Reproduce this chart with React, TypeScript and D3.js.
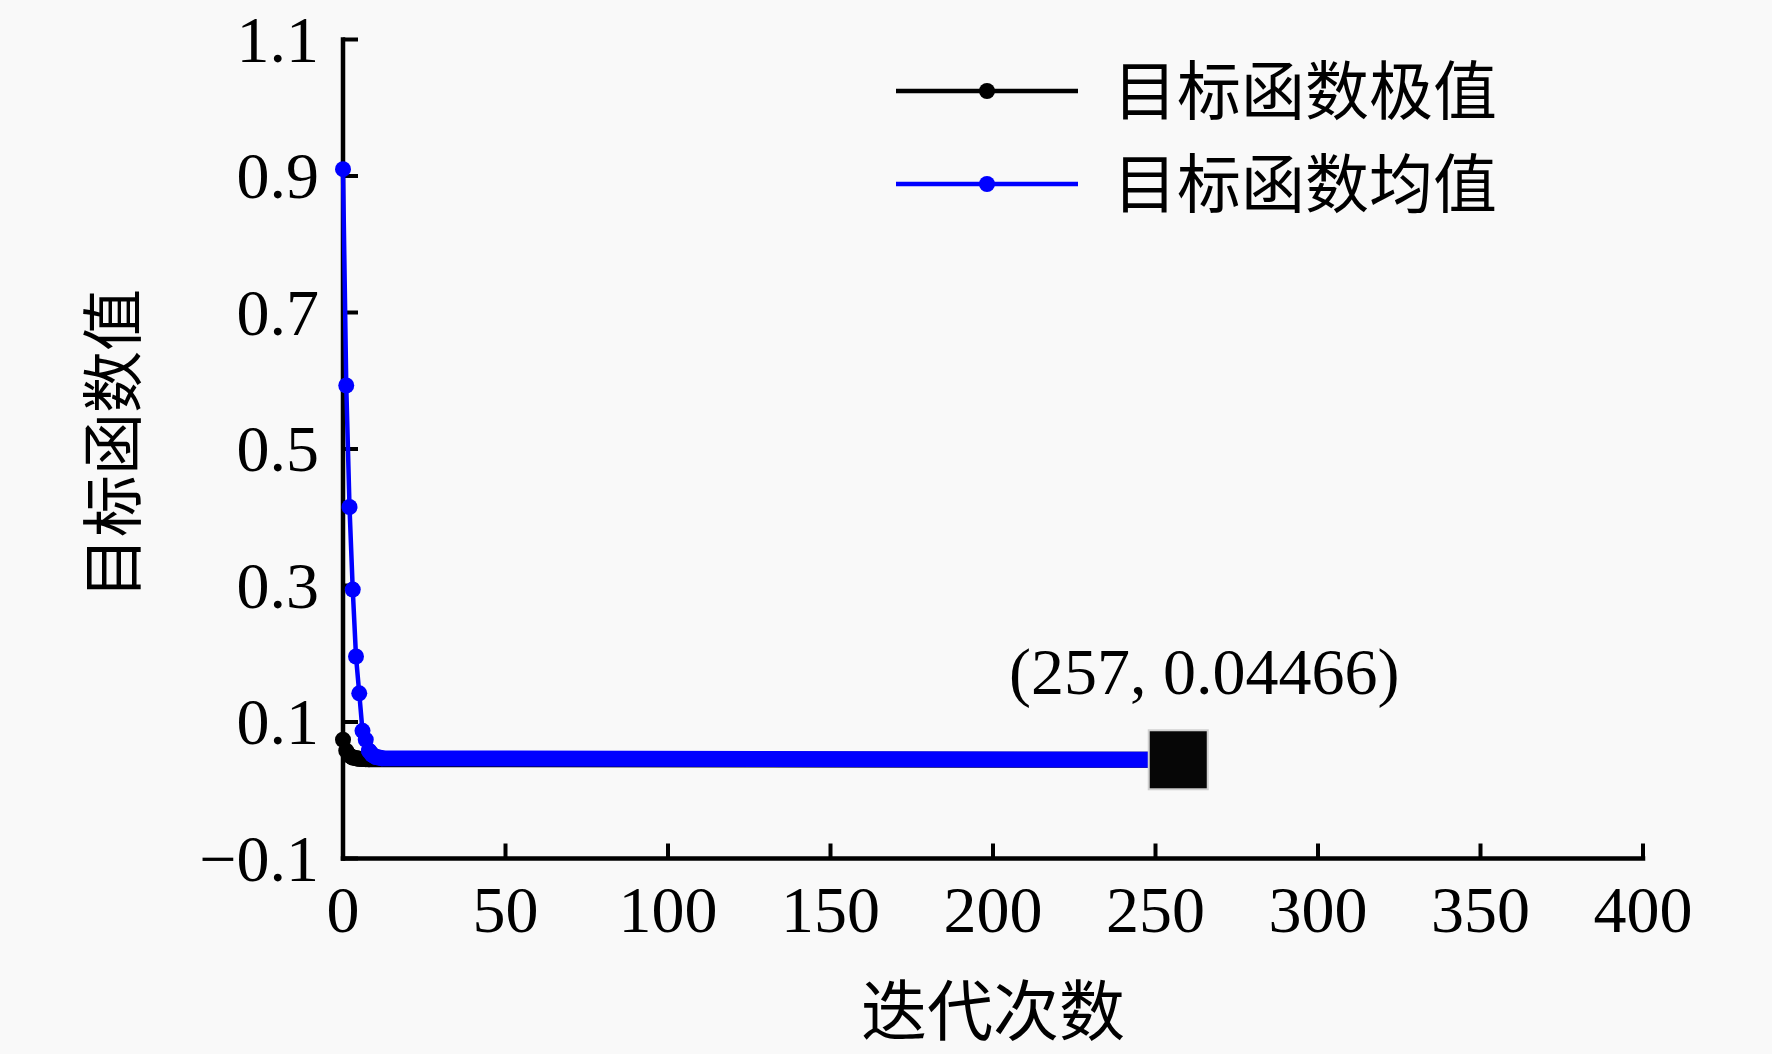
import React from "react";
import * as d3 from "d3";

// ---- data ----
const xTicks = [0, 50, 100, 150, 200, 250, 300, 350, 400];
const yTicks = [-0.1, 0.1, 0.3, 0.5, 0.7, 0.9, 1.1];
const yTickLabels = ["\u22120.1", "0.1", "0.3", "0.5", "0.7", "0.9", "1.1"];

// 目标函数极值 (best value) — early iterations with visible markers
const bestIter = [0, 1, 2, 3, 4, 5, 6, 7, 8];
const bestVal = [0.074, 0.058, 0.051, 0.048, 0.047, 0.046, 0.0458, 0.0456, 0.0455];
// 目标函数均值 (mean value)
const meanIter = [0, 1, 2, 3, 4, 5, 6, 7, 8, 9, 10, 11, 12];
const meanVal = [0.91, 0.593, 0.415, 0.294, 0.196, 0.142, 0.087, 0.074, 0.058, 0.052, 0.049, 0.048, 0.047];

// dense-marker band (markers at every iteration merge into a thick band)
const bestBandStart = 2;
const meanBandStart = 8;

// final point
const finalIter = 257;
const finalVal = 0.04466;
const finalLabel = "(257, 0.04466)";

const seriesNames = ["目标函数极值", "目标函数均值"];
const seriesColors = ["#000000", "#0000ff"];
const xTitle = "迭代次数";
const yTitle = "目标函数值";

const W = 1772;
const H = 1054;
const serif = "'Liberation Serif', 'Times New Roman', serif";
const cjk = "'Noto Sans CJK SC', sans-serif";

export default function App() {
  const x = d3.scaleLinear().domain([0, 400]).range([343, 1643]);
  const y = d3.scaleLinear().domain([-0.1, 1.1]).range([858.5, 39.5]);

  const line = d3
    .line<[number, number]>()
    .x((d) => x(d[0]))
    .y((d) => y(d[1]));

  const bestPts: [number, number][] = bestIter.map((it, i) => [it, bestVal[i]]);
  const meanPts: [number, number][] = meanIter.map((it, i) => [it, meanVal[i]]);
  const bestAll: [number, number][] = [...bestPts, [finalIter, finalVal]];
  const meanAll: [number, number][] = [...meanPts, [finalIter, finalVal]];
  const bestBand = bestAll.filter((d) => d[0] >= bestBandStart);
  const meanBand = meanAll.filter((d) => d[0] >= meanBandStart);

  const r = 8;
  const bandW = 16;
  const x0 = x(0);
  const yb = y(-0.1);
  const sq = 59;

  const series = [
    { pts: bestPts, all: bestAll, band: bestBand, color: seriesColors[0] },
    { pts: meanPts, all: meanAll, band: meanBand, color: seriesColors[1] },
  ];

  return (
    <svg
      width={W}
      height={H}
      style={{ position: "absolute", left: 0, top: 0, background: "#f9f9f9" }}
    >
      <rect x={0} y={0} width={W} height={H} fill="#f9f9f9" />

      {/* axes */}
      <line x1={x0} y1={yb} x2={x0} y2={y(1.1)} stroke="#000" strokeWidth={4.5} strokeLinecap="square" />
      <line x1={x0} y1={yb} x2={x(400)} y2={yb} stroke="#000" strokeWidth={4.5} strokeLinecap="square" />
      {yTicks.map((t, i) => (
        <g key={"yt" + i}>
          <line x1={x0} x2={x0 + 15} y1={y(t)} y2={y(t)} stroke="#000" strokeWidth={4} />
          <text
            x={319}
            y={y(t) + 22}
            textAnchor="end"
            fontFamily={serif}
            fontSize={66}
            fill="#000"
          >
            {yTickLabels[i]}
          </text>
        </g>
      ))}
      {xTicks.map((t, i) => (
        <g key={"xt" + i}>
          <line x1={x(t)} x2={x(t)} y1={yb} y2={yb - 15} stroke="#000" strokeWidth={4} />
          <text
            x={x(t)}
            y={932}
            textAnchor="middle"
            fontFamily={serif}
            fontSize={66}
            fill="#000"
          >
            {t}
          </text>
        </g>
      ))}

      {/* series */}
      {series.map((s, si) => (
        <g key={"s" + si}>
          <path d={line(s.all) || ""} fill="none" stroke={s.color} strokeWidth={4.5} />
          <path
            d={line(s.band) || ""}
            fill="none"
            stroke={s.color}
            strokeWidth={bandW}
            strokeLinejoin="round"
            strokeLinecap="round"
          />
          {s.pts.map((d, i) => (
            <circle key={i} cx={x(d[0])} cy={y(d[1])} r={r} fill={s.color} />
          ))}
        </g>
      ))}

      {/* final marker */}
      <rect
        x={x(finalIter) - sq / 2}
        y={y(finalVal) - sq / 2}
        width={sq}
        height={sq}
        fill="#060606"
        stroke="#d0d0d0"
        strokeWidth={2}
      />
      <text
        x={x(finalIter) + 26}
        y={y(finalVal) - 66}
        textAnchor="middle"
        fontFamily={serif}
        fontSize={66}
        fill="#000"
      >
        {finalLabel}
      </text>

      {/* legend */}
      {seriesNames.map((n, i) => {
        const ly = 91 + i * 93;
        return (
          <g key={"lg" + i}>
            <line x1={896} x2={1078} y1={ly} y2={ly} stroke={seriesColors[i]} strokeWidth={4.5} />
            <circle cx={987} cy={ly} r={r} fill={seriesColors[i]} />
            <text x={1113} y={ly + 23} fontFamily={cjk} fontSize={64} fill="#000">
              {n}
            </text>
          </g>
        );
      })}

      {/* axis titles */}
      <text
        x={993}
        y={1035}
        textAnchor="middle"
        fontFamily={cjk}
        fontSize={66}
        fill="#000"
      >
        {xTitle}
      </text>
      <text
        transform={`translate(136,444) rotate(-90)`}
        textAnchor="middle"
        fontFamily={cjk}
        fontSize={62}
        fill="#000"
      >
        {yTitle}
      </text>
    </svg>
  );
}
